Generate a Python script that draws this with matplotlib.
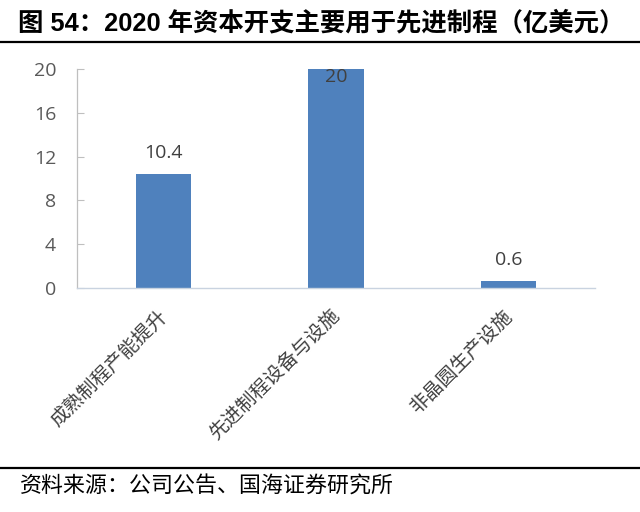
"""Bar chart: 2020 capex split (100M USD)"""
import matplotlib
matplotlib.use("Agg")
import matplotlib.pyplot as plt
import matplotlib.transforms as mtransforms
from matplotlib.lines import Line2D

plt.rcParams["font.family"] = ["Open Sans", "Noto Sans CJK SC", "DejaVu Sans"]

categories = ["成熟制程产能提升", "先进制程设备与设施", "非晶圆生产设施"]
values = [10.4, 20, 0.6]
value_labels = ["10.4", "20", "0.6"]
yticks = [0, 4, 8, 12, 16, 20]

title = "图 54：2020 年资本开支主要用于先进制程（亿美元）"
source = "资料来源：公司公告、国海证券研究所"

BAR_COLOR = "#4F81BD"
AXIS_COLOR = "#BFBFBF"
TEXT_COLOR = "#595959"

fig = plt.figure(figsize=(6.4, 5.12), dpi=100)
ax = fig.add_axes([0.1203, 0.4375, 0.8097, 0.4277])

x = list(range(len(categories)))
ax.bar(x, values, width=0.32, color=BAR_COLOR, zorder=2)

ymax = yticks[-1]
for xi, v, lab in zip(x, values, value_labels):
    # no room above the tallest bar, excel tucks its label under the top
    dy = -9.5 if v >= ymax else 11.5
    ax.annotate(lab, (xi, v), xytext=(0, dy), textcoords="offset points",
                ha="center", va="baseline", fontsize=14, color="#404040",
                annotation_clip=False)

ax.set_xlim(-0.5, len(categories) - 0.5)
ax.set_ylim(0, ymax)
ax.set_yticks(yticks)
ax.set_yticklabels([str(t) for t in yticks], fontsize=14, color=TEXT_COLOR)
ax.tick_params(axis="y", direction="in", length=5, width=0.8, color=AXIS_COLOR, pad=15)

ax.set_xticks(x)
ax.set_xticklabels(categories, rotation=45, ha="right", va="center",
                   rotation_mode="anchor", fontsize=14, fontweight="light",
                   family=["Noto Sans CJK SC", "DejaVu Sans"], color="#404040")
ax.tick_params(axis="x", length=0, pad=0)

# move the rotated labels so their ends sit under the bar centres
shift = mtransforms.ScaledTranslation(1 / 100, -25 / 100, fig.dpi_scale_trans)
for lbl in ax.get_xticklabels():
    lbl.set_transform(lbl.get_transform() + shift)

for side in ["top", "right"]:
    ax.spines[side].set_visible(False)
ax.spines["left"].set_color(AXIS_COLOR)
ax.spines["bottom"].set_color("#C9D3E0")
ax.spines["left"].set_linewidth(0.9)
ax.spines["bottom"].set_linewidth(1.0)

fig.text(0.028, 1 - 23 / 512, title, fontsize=18.3, fontweight="bold",
         family=["Liberation Sans", "Noto Sans CJK SC"], color="black", va="center")
fig.add_artist(Line2D([0, 1], [1 - 42 / 512] * 2, color="black", linewidth=1.6))
fig.add_artist(Line2D([0, 1], [1 - 468 / 512] * 2, color="black", linewidth=1.6))
fig.text(0.031, 1 - 487 / 512, source, fontsize=15.8,
         family=["Noto Sans CJK SC", "DejaVu Sans"], color="black", va="center")

fig.savefig("out.png", dpi=100)
